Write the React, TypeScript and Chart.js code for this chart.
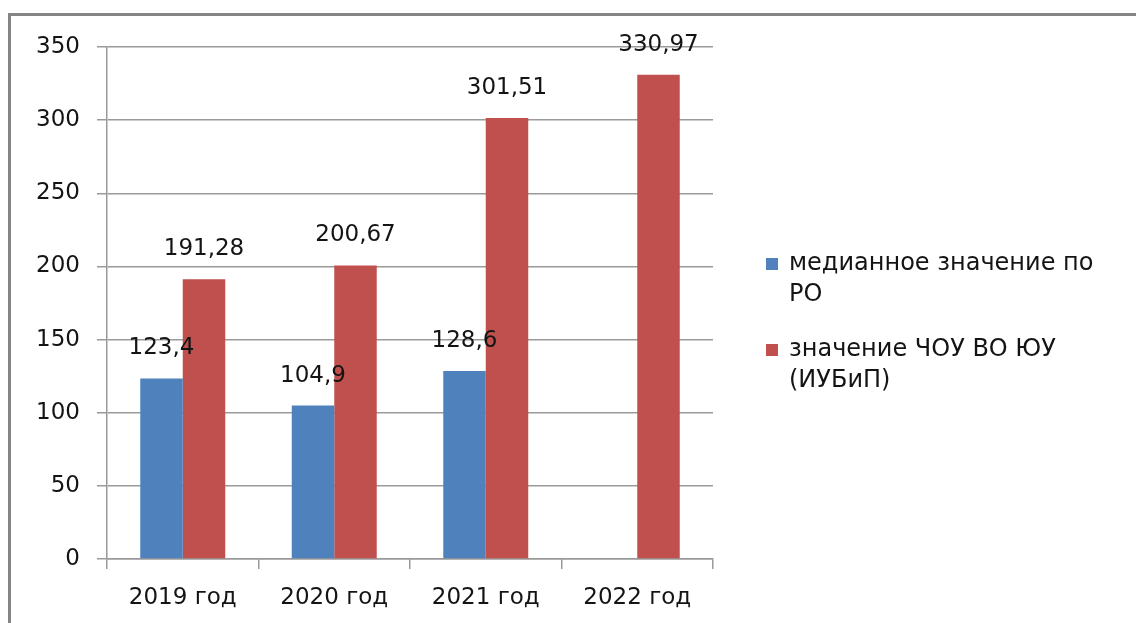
import React, { useEffect, useRef } from "react";
import { Chart, registerables } from "chart.js";

Chart.register(...registerables);

const categories = ["2019 год", "2020 год", "2021 год", "2022 год"];
const medianValues: (number | null)[] = [123.4, 104.9, 128.6, null];
const instituteValues: (number | null)[] = [191.28, 200.67, 301.51, 330.97];
const seriesNames = [["медианное значение по", "РО"], ["значение ЧОУ ВО ЮУ", "(ИУБиП)"]];
const seriesColors = ["#4F81BD", "#C0504D"];
const yTicks = [0, 50, 100, 150, 200, 250, 300, 350];

const FONT = "'DejaVu Sans', sans-serif";
const TEXT = "#141414";

const fmt = (v: number) => String(v).replace(".", ",");

const dataLabelPlugin = {
  id: "dataLabels",
  afterDatasetsDraw(chart: any) {
    const ctx = chart.ctx;
    ctx.save();
    ctx.font = `23px ${FONT}`;
    ctx.fillStyle = TEXT;
    ctx.textAlign = "center";
    ctx.textBaseline = "middle";
    chart.data.datasets.forEach((ds: any, i: number) => {
      const meta = chart.getDatasetMeta(i);
      meta.data.forEach((el: any, j: number) => {
        const v = ds.data[j];
        if (v === null || v === undefined) return;
        ctx.fillText(fmt(v), el.x, el.y - 30);
      });
    });
    ctx.restore();
  },
};

const legendPlugin = {
  id: "sideLegend",
  afterDraw(chart: any) {
    const ctx = chart.ctx;
    ctx.save();
    ctx.font = `24px ${FONT}`;
    ctx.textAlign = "left";
    ctx.textBaseline = "middle";
    const startY = [264, 350];
    const lineH = 31;
    seriesNames.forEach((lines, i) => {
      const y0 = startY[i];
      ctx.fillStyle = seriesColors[i];
      ctx.fillRect(766, y0 - 6, 12, 12);
      ctx.fillStyle = TEXT;
      lines.forEach((t, k) => ctx.fillText(t, 789, y0 + k * lineH));
    });
    ctx.restore();
  },
};

export default function App() {
  const ref = useRef<HTMLCanvasElement>(null);
  useEffect(() => {
    if (!ref.current) return;
    const chart = new Chart(ref.current, {
      type: "bar",
      data: {
        labels: categories,
        datasets: [
          {
            label: seriesNames[0].join(" "),
            data: medianValues,
            backgroundColor: seriesColors[0],
            categoryPercentage: 0.561,
            barPercentage: 1,
          },
          {
            label: seriesNames[1].join(" "),
            data: instituteValues,
            backgroundColor: seriesColors[1],
            categoryPercentage: 0.561,
            barPercentage: 1,
          },
        ],
      },
      options: {
        responsive: false,
        animation: false,
        layout: { padding: { left: 0, top: 47, right: 423, bottom: 0 } },
        plugins: {
          legend: { display: false },
          tooltip: { enabled: false },
        },
        scales: {
          x: {
            grid: {
              display: true,
              drawOnChartArea: false,
              drawTicks: true,
              tickLength: 10,
              color: "#9a9a9a",
              lineWidth: 1.5,
              offset: true,
            },
            border: { display: true, color: "#9a9a9a", width: 1.5 },
            ticks: {
              font: { family: FONT, size: 23 },
              color: TEXT,
              padding: 15,
              maxRotation: 0,
            },
            afterFit(scale: any) {
              scale.height = 64;
            },
          },
          y: {
            min: 0,
            max: 350,
            afterBuildTicks(scale: any) {
              scale.ticks = yTicks.map((v) => ({ value: v }));
            },
            grid: {
              color: "#9a9a9a",
              lineWidth: 1.5,
              tickLength: 10,
            },
            border: { display: true, color: "#9a9a9a", width: 1.5 },
            ticks: {
              font: { family: FONT, size: 23 },
              color: TEXT,
              padding: 17,
            },
            afterFit(scale: any) {
              scale.width = 107;
            },
          },
        },
      },
      plugins: [dataLabelPlugin, legendPlugin],
    });
    return () => chart.destroy();
  }, []);

  return (
    <div style={{ position: "fixed", left: 0, top: 0, width: 1136, height: 623, background: "#fff", overflow: "hidden" }}>
      <div
        style={{
          position: "absolute",
          left: 8,
          top: 13,
          width: 1200,
          height: 700,
          borderTop: "3px solid #858585",
          borderLeft: "3px solid #858585",
        }}
      />
      <canvas ref={ref} width={1136} height={623} style={{ position: "absolute", left: 0, top: 0 }} />
    </div>
  );
}
